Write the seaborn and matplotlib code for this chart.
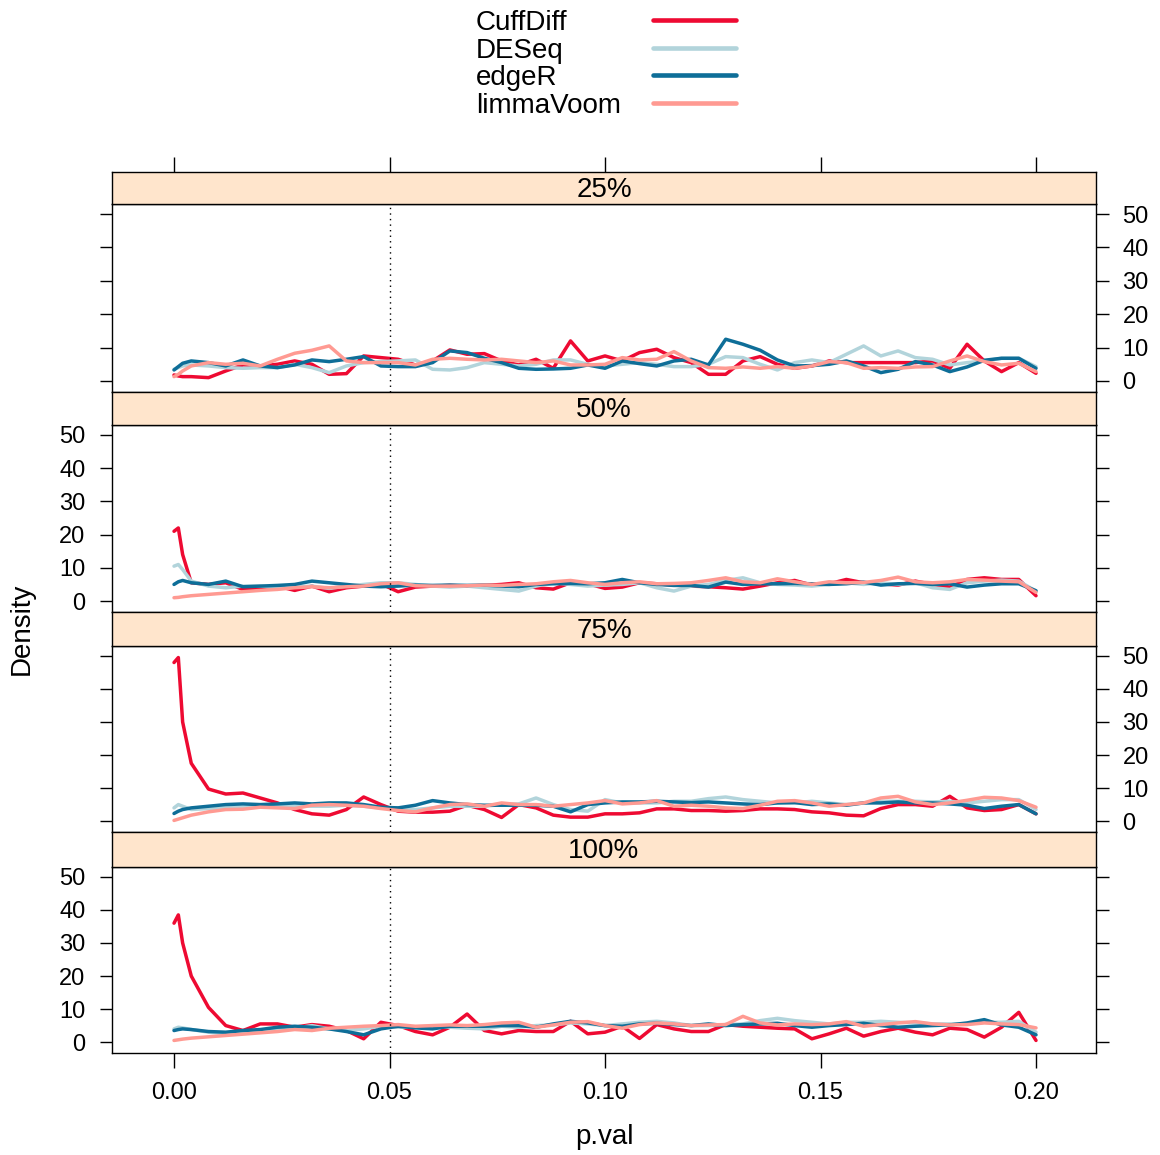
import numpy as np
import pandas as pd
import matplotlib
matplotlib.use("Agg")
import matplotlib.pyplot as plt
import seaborn as sns
from matplotlib.lines import Line2D

sns.set_style("white")
plt.rcParams["font.family"] = ["Liberation Sans", "DejaVu Sans"]
plt.rcParams["text.color"] = "black"
plt.rcParams["axes.labelcolor"] = "black"
plt.rcParams["xtick.color"] = "black"
plt.rcParams["ytick.color"] = "black"
plt.rcParams["lines.solid_joinstyle"] = "round"
plt.rcParams["lines.solid_capstyle"] = "round"

# ---------------- data ----------------
methods = ["CuffDiff", "DESeq", "edgeR", "limmaVoom"]
colors = ["#EE0A32", "#B2D4DB", "#0E6E98", "#FF9A92"]
panels = ["25%", "50%", "75%", "100%"]
xticks = [0.00, 0.05, 0.10, 0.15, 0.20]
yticks = [0, 10, 20, 30, 40, 50]

pvals = [0.0, 0.001, 0.002] + [round(0.004 * k, 3) for k in range(1, 51)]

cuff_25 = [1.8, 1.5, 1.3,
           1.3, 1.0, 3.0, 4.8, 4.5, 5.0, 6.0, 5.0, 2.0, 2.2,
           7.5, 7.0, 6.5, 4.8, 6.0, 9.3, 8.0, 8.2, 6.0, 4.8,
           6.5, 3.8, 12.0, 6.0, 7.5, 6.0, 8.5, 9.5, 7.0, 5.5,
           2.0, 2.0, 6.0, 7.3, 5.0, 3.8, 4.5, 6.0, 5.5, 5.5,
           5.5, 5.5, 5.5, 6.0, 3.8, 11.0, 6.0, 2.8, 5.5, 2.3]
deseq_25 = [3.5, 4.0, 4.5,
            4.8, 4.5, 4.0, 3.8, 4.0, 4.0, 5.0, 4.0, 2.5, 4.5,
            5.5, 5.8, 6.0, 6.3, 3.5, 3.3, 4.0, 5.5, 5.0, 4.5,
            5.0, 6.3, 6.3, 5.0, 4.5, 5.0, 5.5, 5.0, 4.3, 4.3,
            5.0, 7.3, 7.0, 5.0, 3.3, 5.5, 6.3, 5.5, 8.0, 10.5,
            7.5, 9.0, 7.0, 6.5, 4.8, 5.5, 6.0, 6.8, 6.8, 4.3]
edger_25 = [3.3, 4.3, 5.3,
            6.0, 5.5, 4.5, 6.3, 4.5, 4.0, 4.8, 6.3, 5.8, 6.5,
            7.3, 4.5, 4.3, 4.3, 5.5, 9.0, 8.5, 6.8, 5.5, 3.8,
            3.5, 3.6, 3.8, 4.8, 3.8, 6.0, 5.2, 4.5, 6.0, 6.5,
            4.8, 12.5, 11.0, 9.2, 6.3, 4.5, 4.6, 5.0, 6.0, 4.5,
            2.5, 3.5, 5.8, 4.8, 2.8, 4.2, 6.2, 6.8, 6.8, 3.8]
limma_25 = [1.3, 2.0, 3.0,
            4.5, 5.5, 5.0, 5.3, 4.5, 6.5, 8.3, 9.2, 10.5, 6.0,
            5.5, 5.5, 5.5, 4.8, 6.5, 6.8, 6.5, 6.3, 6.5, 6.0,
            5.5, 6.0, 4.8, 4.8, 5.0, 7.0, 6.3, 6.5, 8.8, 6.0,
            4.0, 3.8, 4.2, 3.8, 4.3, 3.8, 4.5, 5.8, 5.5, 3.8,
            4.0, 3.8, 4.2, 4.3, 6.0, 7.5, 5.8, 4.8, 5.3, 2.8]

cuff_50 = [21.0, 22.0, 14.0,
           5.5, 5.0, 5.5, 3.5, 4.0, 4.5, 3.2, 4.5, 2.8, 4.0,
           4.5, 5.2, 2.8, 4.2, 4.5, 4.7, 4.5, 4.7, 5.0, 5.5,
           4.0, 3.6, 5.5, 5.2, 3.8, 4.2, 5.5, 5.2, 4.8, 4.5,
           4.3, 4.0, 3.6, 4.5, 5.5, 6.2, 4.8, 5.2, 6.5, 5.5,
           5.2, 4.8, 6.0, 5.0, 4.2, 6.5, 7.0, 6.5, 6.5, 1.6]
deseq_50 = [10.5, 11.0, 9.5,
            6.0, 4.5, 4.0, 4.5, 4.5, 4.0, 4.2, 4.5, 3.8, 4.5,
            5.0, 5.5, 5.5, 5.0, 4.5, 4.2, 4.5, 4.0, 3.5, 3.0,
            4.5, 5.5, 5.0, 4.5, 4.8, 5.0, 5.5, 4.0, 3.0, 4.5,
            5.0, 6.2, 7.0, 5.5, 5.0, 4.8, 4.5, 5.0, 5.5, 5.0,
            5.5, 5.0, 5.5, 4.0, 3.5, 5.5, 6.0, 6.3, 6.0, 3.0]
edger_50 = [5.0, 5.8, 6.2,
            5.5, 5.0, 6.0, 4.3, 4.5, 4.7, 5.0, 6.0, 5.5, 5.0,
            4.5, 4.3, 4.5, 4.8, 4.7, 4.8, 4.7, 4.8, 4.5, 4.3,
            5.0, 5.2, 5.3, 5.2, 5.5, 6.5, 5.5, 5.0, 4.7, 4.7,
            4.2, 5.7, 5.0, 5.2, 5.2, 5.3, 5.2, 5.0, 5.2, 5.7,
            4.8, 5.2, 5.3, 5.0, 5.2, 4.2, 4.8, 5.2, 5.2, 3.1]
limma_50 = [1.0, 1.1, 1.3,
            1.6, 2.0, 2.4, 2.8, 3.2, 3.5, 4.0, 4.3, 4.0, 4.3,
            4.5, 5.2, 5.5, 4.6, 4.5, 4.5, 4.6, 4.8, 4.7, 5.0,
            5.2, 5.8, 6.2, 5.5, 5.0, 5.5, 5.8, 5.2, 5.3, 5.5,
            6.2, 7.0, 5.8, 5.5, 6.7, 5.8, 5.0, 5.8, 5.5, 5.6,
            6.2, 7.2, 5.8, 5.5, 5.8, 6.5, 6.3, 6.0, 5.8, 2.6]

cuff_75 = [48.0, 49.5, 30.0,
           17.5, 9.7, 8.2, 8.5, 7.0, 5.5, 3.5, 2.2, 1.8, 3.5,
           7.3, 5.0, 3.0, 2.7, 2.7, 3.0, 4.8, 3.5, 1.1, 5.0,
           4.0, 1.8, 1.2, 1.2, 2.2, 2.2, 2.5, 3.7, 3.7, 3.2,
           3.2, 3.0, 3.2, 3.7, 3.7, 3.5, 2.8, 2.5, 1.8, 1.6,
           3.8, 5.0, 5.0, 4.5, 7.5, 4.0, 3.2, 3.5, 5.0, 2.2]
deseq_75 = [4.0, 5.0, 4.5,
            3.5, 3.8, 4.0, 4.2, 4.5, 4.5, 4.8, 4.5, 4.5, 4.8,
            4.5, 4.0, 4.0, 3.5, 4.0, 4.5, 4.5, 4.5, 5.0, 5.2,
            7.0, 5.0, 3.5, 3.0, 6.5, 5.5, 5.5, 5.5, 6.0, 6.0,
            6.8, 7.3, 6.5, 6.0, 5.5, 5.5, 6.0, 5.5, 5.0, 5.5,
            6.0, 6.0, 6.0, 5.8, 6.0, 5.5, 6.0, 6.5, 6.5, 3.5]
edger_75 = [2.3, 3.0, 3.5,
            4.0, 4.5, 5.0, 5.2, 5.0, 5.2, 5.5, 5.2, 5.5, 5.5,
            5.0, 4.2, 4.0, 4.8, 6.2, 5.5, 5.0, 4.8, 4.8, 4.8,
            4.8, 4.5, 2.8, 5.0, 5.5, 5.8, 5.8, 6.0, 5.8, 5.6,
            5.8, 5.5, 5.2, 5.0, 5.5, 5.6, 5.0, 5.2, 4.8, 5.5,
            5.5, 5.8, 5.5, 5.5, 5.2, 4.8, 3.8, 4.5, 5.0, 2.2]
limma_75 = [0.2, 0.6, 1.0,
            1.8, 2.8, 3.5, 3.6, 4.2, 4.0, 3.8, 4.8, 5.0, 4.8,
            4.5, 3.8, 3.2, 2.8, 4.0, 5.0, 5.2, 4.5, 5.5, 5.0,
            5.0, 4.5, 5.0, 5.5, 6.2, 5.2, 5.5, 6.2, 4.5, 4.8,
            4.5, 4.0, 3.8, 4.8, 6.0, 6.2, 5.5, 4.5, 5.0, 5.5,
            7.0, 7.5, 5.8, 5.0, 5.5, 6.3, 7.2, 7.0, 6.2, 4.2]

cuff_100 = [36.0, 38.5, 30.0,
            20.0, 10.5, 5.0, 3.5, 5.5, 5.5, 4.5, 5.3, 4.8, 3.5,
            1.0, 6.0, 5.0, 3.2, 2.2, 4.5, 8.5, 3.5, 2.5, 3.5,
            3.2, 3.2, 6.3, 2.5, 3.0, 4.8, 1.1, 5.3, 4.0, 3.2,
            3.2, 5.3, 4.8, 4.5, 4.2, 4.0, 1.0, 2.5, 4.2, 1.8,
            3.2, 4.2, 3.0, 2.2, 4.2, 3.8, 1.5, 4.5, 9.0, 0.5]
deseq_100 = [4.0, 4.5, 4.3,
             3.8, 3.0, 2.5, 2.7, 3.2, 3.8, 4.2, 5.0, 4.0, 3.5,
             4.0, 4.8, 4.5, 4.5, 4.8, 4.5, 4.2, 4.0, 4.8, 4.5,
             5.0, 5.2, 5.8, 5.5, 5.0, 5.5, 6.0, 6.3, 5.8, 5.0,
             5.0, 5.3, 5.5, 6.5, 7.2, 6.5, 6.0, 5.5, 6.0, 6.0,
             6.3, 6.0, 5.8, 5.5, 5.5, 5.5, 6.0, 6.0, 6.3, 3.0]
edger_100 = [3.5, 3.8, 4.0,
             3.8, 3.2, 3.0, 3.5, 3.8, 4.5, 4.8, 4.5, 4.0, 3.2,
             2.2, 4.0, 4.8, 4.3, 4.0, 4.8, 4.8, 4.8, 5.0, 5.0,
             4.5, 5.5, 6.3, 5.8, 5.0, 4.8, 5.5, 5.7, 5.3, 5.0,
             5.5, 5.0, 5.3, 5.5, 5.7, 5.0, 4.5, 5.0, 5.3, 5.7,
             5.0, 4.5, 4.8, 5.0, 5.2, 5.8, 6.8, 5.2, 4.5, 2.2]
limma_100 = [0.5, 0.7, 0.9,
             1.2, 1.6, 2.0, 2.4, 2.8, 3.2, 3.8, 3.5, 4.2, 4.5,
             4.8, 5.0, 5.3, 4.8, 5.0, 5.2, 5.0, 5.3, 5.8, 6.0,
             4.5, 5.2, 6.0, 6.2, 5.0, 4.2, 5.3, 5.8, 5.5, 5.0,
             5.2, 5.3, 7.8, 5.8, 5.2, 5.5, 5.3, 5.5, 6.2, 4.8,
             5.3, 5.8, 6.2, 5.5, 5.2, 5.3, 5.8, 5.5, 5.3, 4.3]

series = {
    "25%": [cuff_25, deseq_25, edger_25, limma_25],
    "50%": [cuff_50, deseq_50, edger_50, limma_50],
    "75%": [cuff_75, deseq_75, edger_75, limma_75],
    "100%": [cuff_100, deseq_100, edger_100, limma_100],
}

rows = []
for pan in panels:
    for m, vals in zip(methods, series[pan]):
        for x, v in zip(pvals, vals):
            rows.append((pan, m, x, v))
df = pd.DataFrame(rows, columns=["panel", "method", "p", "density"])

# ---------------- layout ----------------
W, H = 1160, 1155
fig = plt.figure(figsize=(W / 100, H / 100), dpi=100)

L, R = 112, 1096
plot_px = [(204, 392), (425, 612), (646, 832), (867, 1053)]
strip_px = [(172, 204), (392, 425), (612, 646), (832, 867)]
xlo, xhi = -0.01439, 0.21392


def rect(t, b):
    return [L / W, 1 - b / H, (R - L) / W, (b - t) / H]


for i, pan in enumerate(panels):
    ax = fig.add_axes(rect(*plot_px[i]))
    sub = df[df["panel"] == pan]
    sns.lineplot(data=sub, x="p", y="density", hue="method", hue_order=methods,
                 palette=colors, linewidth=2.5, legend=False, ax=ax,
                 estimator=None, sort=False)
    ax.axvline(0.05, color="black", linestyle=(0, (1, 3)), linewidth=1)
    ax.set_xlim(xlo, xhi)
    ax.set_ylim(-3.3, 53)
    ax.set_xlabel("")
    ax.set_ylabel("")
    ax.set_yticks(yticks)
    ax.tick_params(axis="y", left=True, right=True, direction="out", length=9,
                   width=1, color="black", labelcolor="black", labelsize=17,
                   labelleft=(i % 2 == 1), labelright=(i % 2 == 0), pad=10)
    ax.set_xticks(xticks)
    if i < 3:
        ax.tick_params(axis="x", bottom=False, labelbottom=False)
    else:
        ax.set_xticklabels([f"{t:.2f}" for t in xticks])
        ax.tick_params(axis="x", bottom=True, direction="out", length=11, width=1,
                       color="black", labelcolor="black", labelsize=17, pad=10)
    for s in ax.spines.values():
        s.set_color("black")
        s.set_linewidth(1)
        s.set_visible(True)

    sax = fig.add_axes(rect(*strip_px[i]))
    sax.set_facecolor("#FFE5CC")
    sax.set_xlim(xlo, xhi)
    sax.set_ylim(0, 1)
    sax.set_yticks([])
    if i == 0:
        sax.set_xticks(xticks)
        sax.tick_params(axis="x", top=True, bottom=False, labeltop=False,
                        labelbottom=False, direction="out", length=11, width=1,
                        color="black")
    else:
        sax.set_xticks([])
    for s in sax.spines.values():
        s.set_color("black")
        s.set_linewidth(1)
        s.set_visible(True)
    sax.text(0.5, 0.45, pan, ha="center", va="center", fontsize=20,
             color="black", transform=sax.transAxes)

# axis labels
fig.text(22 / W, 1 - 629 / H, "Density", rotation=90, ha="center", va="center",
         fontsize=20, color="black")
fig.text(604 / W, 1 - 1137 / H, "p.val", ha="center", va="center", fontsize=20,
         color="black")

# legend
leg_y = [20, 48, 75, 103]
for m, c, y in zip(methods, colors, leg_y):
    fig.text(476 / W, 1 - (y + 10) / H, m, ha="left", va="baseline", fontsize=20,
             color="black")
    fig.add_artist(Line2D([653 / W, 736 / W], [1 - y / H, 1 - y / H], color=c,
                          linewidth=3.3, solid_capstyle="round",
                          transform=fig.transFigure))

fig.savefig("out.png", dpi=100)
